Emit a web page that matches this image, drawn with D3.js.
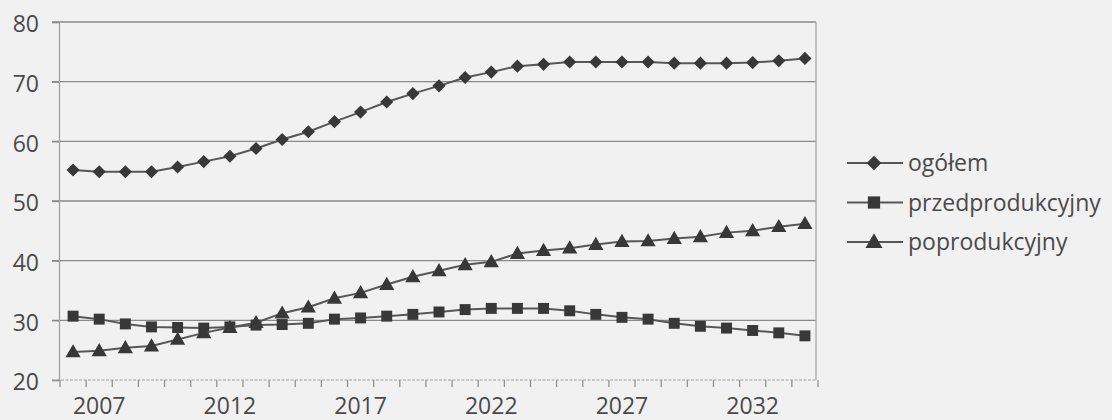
<!DOCTYPE html>
<html>
<head>
<meta charset="utf-8">
<script src="https://cdn.jsdelivr.net/npm/d3@7"></script>
<style>
  html, body { margin: 0; padding: 0; background: #f1f1f1; }
  svg { display: block; }
  text { font-family: "Open Sans", "Noto Sans", sans-serif; fill: #444; }
</style>
</head>
<body>
<svg id="chart" width="1112" height="420"></svg>
<script>
// Years on the category axis
const years = d3.range(2006, 2035);

// Series values per year
const ogolem = [55.2, 54.9, 54.9, 54.9, 55.7, 56.6, 57.5, 58.8, 60.3, 61.6,
  63.3, 64.9, 66.6, 68.0, 69.3, 70.7, 71.6, 72.6, 72.9, 73.3,
  73.3, 73.3, 73.3, 73.1, 73.1, 73.1, 73.2, 73.5, 73.9];
const przedprodukcyjny = [30.7, 30.2, 29.4, 28.9, 28.8, 28.7, 28.9, 29.2, 29.3, 29.5,
  30.2, 30.4, 30.7, 31.0, 31.4, 31.8, 32.0, 32.0, 32.0, 31.6,
  31.0, 30.5, 30.2, 29.5, 29.0, 28.7, 28.3, 27.9, 27.4];
const poprodukcyjny = [24.7, 24.9, 25.4, 25.7, 26.8, 27.9, 28.8, 29.6, 31.2, 32.2,
  33.7, 34.6, 36.0, 37.3, 38.3, 39.3, 39.8, 41.2, 41.7, 42.1,
  42.7, 43.2, 43.3, 43.7, 44.0, 44.7, 45.0, 45.7, 46.2];

const seriesNames = ["ogółem", "przedprodukcyjny", "poprodukcyjny"];
const seriesSymbols = [d3.symbolDiamond2, d3.symbolSquare, d3.symbolTriangle];
const yTicks = [20, 30, 40, 50, 60, 70, 80];
const xLabelYears = [2007, 2012, 2017, 2022, 2027, 2032];

const svg = d3.select("#chart");
const plotLeft = 60, plotRight = 818, plotTop = 22, plotBottom = 380;
const fontSize = 23;

const x = d3.scaleBand().domain(years).range([plotLeft, plotRight]);
const y = d3.scaleLinear().domain([20, 80]).range([plotBottom, plotTop]);

// Horizontal gridlines
svg.append("g").selectAll("line").data(yTicks.filter(d => d > 20)).join("line")
  .attr("x1", plotLeft - 8).attr("x2", plotRight - 2)
  .attr("y1", d => y(d)).attr("y2", d => y(d))
  .attr("stroke", "#8a8a8a").attr("stroke-width", 1.3);

// Right frame edge
svg.append("line")
  .attr("x1", plotRight - 2).attr("x2", plotRight - 2)
  .attr("y1", plotTop).attr("y2", plotBottom)
  .attr("stroke", "#a5a5a5").attr("stroke-width", 1.2);

// Y axis
const yAxis = svg.append("g").attr("transform", `translate(${plotLeft - 1},0)`)
  .call(d3.axisLeft(y).tickValues(yTicks).tickSize(7).tickPadding(13));
yAxis.select(".domain").attr("stroke", "#a0a0a0").attr("stroke-width", 1.3);
yAxis.selectAll(".tick line").attr("stroke", "#8a8a8a").attr("stroke-width", 1.3);
yAxis.selectAll("text")
  .attr("font-size", fontSize)
  .attr("dy", "0.42em")
  .style("fill", "#4a4a4a")
  .style("font-family", "'Open Sans', 'Noto Sans', sans-serif");

// X axis: ticks on category boundaries, labels every five years
const bounds = d3.range(years.length + 1).map(i => plotLeft + i * x.step());
const xg = svg.append("g");
xg.append("line")
  .attr("x1", plotLeft - 8).attr("x2", plotRight - 2)
  .attr("y1", plotBottom).attr("y2", plotBottom)
  .attr("stroke", "#a0a0a0").attr("stroke-width", 1.2)
  .attr("stroke-dasharray", "3,1.5");
xg.selectAll("line.tk").data(bounds).join("line").attr("class", "tk")
  .attr("x1", d => d).attr("x2", d => d)
  .attr("y1", plotBottom).attr("y2", plotBottom + 7)
  .attr("stroke", "#8a8a8a").attr("stroke-width", 1.2);
xg.selectAll("text").data(xLabelYears).join("text")
  .attr("x", d => x(d) + x.bandwidth() / 2)
  .attr("y", plotBottom + 34)
  .attr("text-anchor", "middle")
  .attr("font-size", fontSize)
  .style("fill", "#4a4a4a")
  .text(d => d);

// Lines and markers
const allSeries = [ogolem, przedprodukcyjny, poprodukcyjny];
const cx = i => x(years[i]) + x.bandwidth() / 2;
const line = d3.line().x((d, i) => cx(i)).y(d => y(d));
const markerSize = [110, 120, 100];

allSeries.forEach((vals, s) => {
  svg.append("path").datum(vals)
    .attr("d", line)
    .attr("fill", "none")
    .attr("stroke", "#575757")
    .attr("stroke-width", 2);
  svg.append("g").selectAll("path").data(vals).join("path")
    .attr("transform", (d, i) => `translate(${cx(i)},${y(d) + (s === 2 ? 1 : 0)})`)
    .attr("d", d3.symbol().type(seriesSymbols[s]).size(markerSize[s]))
    .attr("fill", "#383838");
});

// Legend
const legend = svg.append("g").attr("transform", "translate(847,163)");
seriesNames.forEach((name, s) => {
  const g = legend.append("g").attr("transform", `translate(0,${s * 39.5})`);
  g.append("line").attr("x1", 0).attr("x2", 56).attr("y1", 0).attr("y2", 0)
    .attr("stroke", "#575757").attr("stroke-width", 2);
  g.append("path").attr("transform", `translate(27,${s === 2 ? 1 : 0})`)
    .attr("d", d3.symbol().type(seriesSymbols[s]).size(markerSize[s] * 1.25))
    .attr("fill", "#383838");
  g.append("text").attr("x", 61).attr("y", 8)
    .attr("font-size", fontSize)
    .style("fill", "#4a4a4a")
    .text(name);
});
</script>
</body>
</html>
